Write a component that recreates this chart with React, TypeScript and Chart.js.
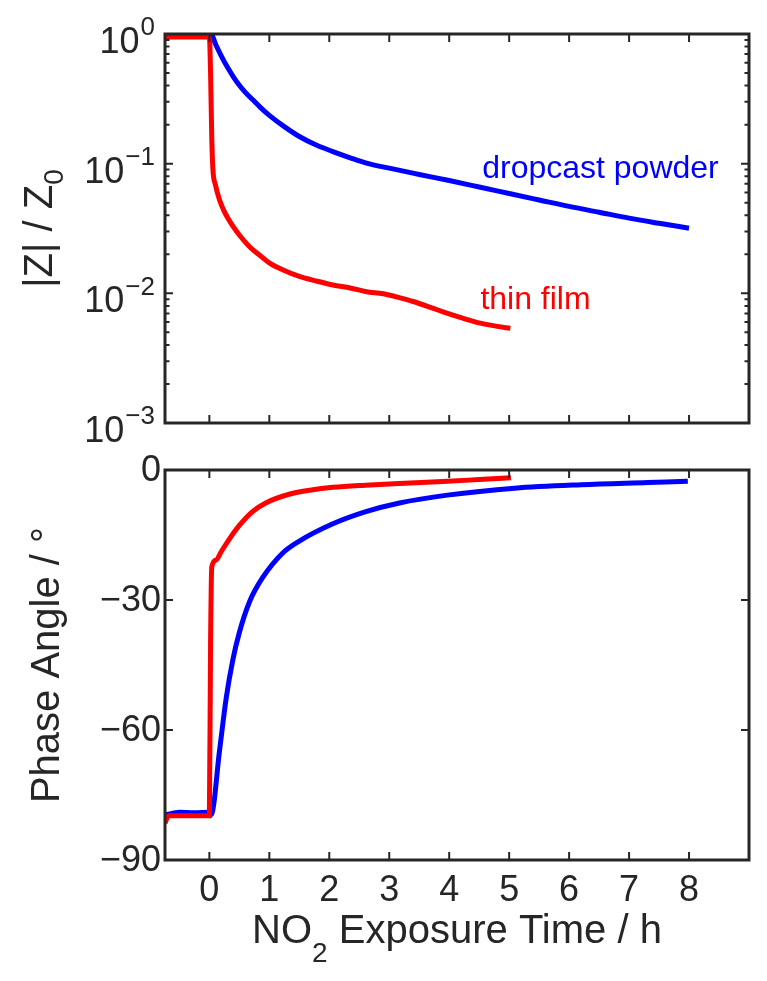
import React, { useEffect, useRef } from 'react';
import { Chart, registerables } from 'chart.js';

Chart.register(...registerables);

// ---------------- data ----------------
const xMin = -0.74;
const xMax = 9;
const xTickValues = [0, 1, 2, 3, 4, 5, 6, 7, 8];
const magMin = 1e-3;
const magMax = 1;
const magTickValues = [1e-3, 1e-2, 1e-1, 1];
const magTickExponents = ['−3', '−2', '−1', '0'];
const phaseMin = -90;
const phaseMax = 0;
const phaseTickValues = [-90, -60, -30, 0];

const thinMagTime = [-0.74, -0.4, 0.0, 0.02, 0.04, 0.06, 0.1, 0.17, 0.25, 0.39, 0.5, 0.67, 0.85, 1.0, 1.25, 1.5, 1.8, 2.06, 2.35, 2.62, 2.9, 3.18, 3.4, 3.7, 3.96, 4.25, 4.52, 4.8, 5.02];
const thinMag = [0.95, 0.95, 0.95, 0.501, 0.158, 0.0891, 0.0692, 0.0525, 0.0427, 0.0331, 0.0282, 0.0229, 0.0195, 0.0172, 0.015, 0.0135, 0.0124, 0.0116, 0.011, 0.0103, 0.00993, 0.00923, 0.00865, 0.00776, 0.00703, 0.00638, 0.00589, 0.00556, 0.00537];

const powderMagTime = [-0.74, -0.3, 0.0, 0.03, 0.1, 0.2, 0.3, 0.4, 0.5, 0.6, 0.72, 0.85, 1.0, 1.25, 1.5, 1.8, 2.06, 2.35, 2.62, 3.0, 3.5, 4.0, 4.5, 5.0, 5.5, 6.0, 6.5, 7.0, 7.5, 8.0];
const powderMag = [1.0, 1.0, 1.0, 1.0, 0.841, 0.676, 0.556, 0.468, 0.403, 0.355, 0.312, 0.272, 0.236, 0.193, 0.162, 0.138, 0.124, 0.111, 0.101, 0.0923, 0.0826, 0.0741, 0.0661, 0.0589, 0.0525, 0.0468, 0.0422, 0.038, 0.0347, 0.0318];

const thinPhaseTime = [-0.74, -0.68, -0.4, 0.0, 0.02, 0.04, 0.11, 0.2, 0.33, 0.5, 0.72, 0.94, 1.33, 1.7, 2.06, 2.6, 3.17, 3.97, 4.5, 5.03];
const thinPhase = [-81.5, -79.8, -79.8, -79.8, -40, -22.4, -20.8, -18.8, -16.0, -12.8, -9.6, -7.6, -5.6, -4.6, -4.0, -3.5, -3.1, -2.6, -2.2, -1.8];

const powderPhaseTime = [-0.74, -0.5, -0.25, 0.0, 0.03, 0.17, 0.28, 0.39, 0.5, 0.67, 0.89, 1.22, 1.5, 2.06, 2.61, 3.17, 3.97, 5.09, 6.2, 7.31, 7.98];
const powderPhase = [-79.6, -79.0, -79.1, -79.0, -79.5, -64.7, -52.7, -43.9, -37.5, -30.4, -24.8, -19.2, -16.4, -12.4, -9.6, -7.6, -5.8, -4.2, -3.4, -2.9, -2.6];

const seriesNames = ['thin film', 'dropcast powder'];

// ---------------- styles ----------------
const AXIS = '#262626';
const RED = '#ff0000';
const BLUE = '#0000ff';
const FONT = '"Liberation Sans", Arial, Helvetica, sans-serif';
const TICK_PX = 36;
const TITLE_PX = 40;

function pts(xs: number[], ys: number[]) {
  return xs.map((x, i) => ({ x, y: ys[i] }));
}

function drawBoxAndTicks(chart: any, yMajor: number[], yMinor: number[]) {
  const ctx = chart.ctx as CanvasRenderingContext2D;
  const a = chart.chartArea;
  const xs = chart.scales.x;
  const ys = chart.scales.y;
  ctx.save();
  ctx.strokeStyle = AXIS;
  ctx.lineWidth = 2;
  const maj = 8;
  const min = 4.5;
  ctx.beginPath();
  for (const v of xTickValues) {
    const px = xs.getPixelForValue(v);
    ctx.moveTo(px, a.bottom);
    ctx.lineTo(px, a.bottom - maj);
    ctx.moveTo(px, a.top);
    ctx.lineTo(px, a.top + maj);
  }
  for (const v of yMajor) {
    const py = ys.getPixelForValue(v);
    ctx.moveTo(a.left, py);
    ctx.lineTo(a.left + maj, py);
    ctx.moveTo(a.right, py);
    ctx.lineTo(a.right - maj, py);
  }
  for (const v of yMinor) {
    const py = ys.getPixelForValue(v);
    ctx.moveTo(a.left, py);
    ctx.lineTo(a.left + min, py);
    ctx.moveTo(a.right, py);
    ctx.lineTo(a.right - min, py);
  }
  ctx.stroke();
  ctx.lineWidth = 3;
  ctx.strokeRect(a.left, a.top, a.right - a.left, a.bottom - a.top);
  ctx.restore();
}

const topPlugin = {
  id: 'topDecor',
  afterDraw(chart: any) {
    const ctx = chart.ctx as CanvasRenderingContext2D;
    const a = chart.chartArea;
    const ys = chart.scales.y;
    const xs = chart.scales.x;
    const minor: number[] = [];
    for (let d = -3; d < 0; d++) {
      for (let m = 2; m <= 9; m++) minor.push(m * Math.pow(10, d));
    }
    drawBoxAndTicks(chart, magTickValues, minor);

    ctx.save();
    ctx.fillStyle = AXIS;
    // y tick labels 10^n
    const rightEdge = a.left - 10;
    magTickValues.forEach((v, i) => {
      const py = ys.getPixelForValue(v);
      const exp = magTickExponents[i];
      ctx.font = `26px ${FONT}`;
      const we = ctx.measureText(exp).width;
      ctx.textAlign = 'left';
      ctx.textBaseline = 'middle';
      ctx.fillText(exp, rightEdge - we, py - 6);
      ctx.font = `${TICK_PX}px ${FONT}`;
      ctx.textAlign = 'right';
      ctx.fillText('10', rightEdge - we - 1, py + 9);
    });

    // y title: |Z| / Z0
    const cx = 41;
    const cy = (a.top + a.bottom) / 2;
    ctx.save();
    ctx.translate(cx, cy);
    ctx.rotate(-Math.PI / 2);
    ctx.font = `${TITLE_PX}px ${FONT}`;
    const mainText = '|Z| / Z';
    const wm = ctx.measureText(mainText).width;
    ctx.font = `28px ${FONT}`;
    const ws = ctx.measureText('0').width;
    const total = wm + ws;
    ctx.textAlign = 'left';
    ctx.textBaseline = 'middle';
    ctx.font = `${TITLE_PX}px ${FONT}`;
    ctx.fillText(mainText, -total / 2, 0);
    ctx.font = `28px ${FONT}`;
    ctx.fillText('0', -total / 2 + wm, 14);
    ctx.restore();

    // series annotations
    ctx.font = `32px ${FONT}`;
    ctx.textAlign = 'left';
    ctx.textBaseline = 'middle';
    ctx.fillStyle = BLUE;
    ctx.fillText(seriesNames[1], xs.getPixelForValue(4.55), ys.getPixelForValue(0.09));
    ctx.fillStyle = RED;
    ctx.fillText(seriesNames[0], xs.getPixelForValue(4.52), ys.getPixelForValue(0.0089));
    ctx.restore();
  },
};

const bottomPlugin = {
  id: 'bottomDecor',
  afterDraw(chart: any) {
    const ctx = chart.ctx as CanvasRenderingContext2D;
    const a = chart.chartArea;
    const ys = chart.scales.y;
    const xs = chart.scales.x;
    drawBoxAndTicks(chart, phaseTickValues, []);

    ctx.save();
    ctx.fillStyle = AXIS;
    ctx.font = `${TICK_PX}px ${FONT}`;
    ctx.textAlign = 'right';
    ctx.textBaseline = 'middle';
    for (const v of phaseTickValues) {
      const label = v < 0 ? '−' + Math.abs(v) : String(v);
      ctx.fillText(label, a.left - 4, ys.getPixelForValue(v) + 1);
    }
    ctx.textAlign = 'center';
    for (const v of xTickValues) {
      ctx.fillText(String(v), xs.getPixelForValue(v), a.bottom + 31);
    }

    // x title with subscript
    const p1 = 'NO';
    const p2 = '2';
    const p3 = ' Exposure Time / h';
    ctx.font = `${TITLE_PX}px ${FONT}`;
    const w1 = ctx.measureText(p1).width;
    const w3 = ctx.measureText(p3).width;
    ctx.font = `28px ${FONT}`;
    const w2 = ctx.measureText(p2).width;
    const total = w1 + w2 + w3;
    const x0 = (a.left + a.right) / 2 - total / 2;
    const ty = a.bottom + 72;
    ctx.textAlign = 'left';
    ctx.font = `${TITLE_PX}px ${FONT}`;
    ctx.fillText(p1, x0, ty);
    ctx.fillText(p3, x0 + w1 + w2, ty);
    ctx.font = `28px ${FONT}`;
    ctx.fillText(p2, x0 + w1, ty + 22);

    // y title
    ctx.save();
    ctx.translate(48, (a.top + a.bottom) / 2);
    ctx.rotate(-Math.PI / 2);
    ctx.font = `${TITLE_PX}px ${FONT}`;
    ctx.textAlign = 'center';
    ctx.textBaseline = 'middle';
    ctx.fillText('Phase Angle / °', 0, 0);
    ctx.restore();
    ctx.restore();
  },
};

function baseOptions(yScale: any, padding: any) {
  return {
    responsive: false,
    maintainAspectRatio: false,
    animation: false,
    devicePixelRatio: 1,
    layout: { padding },
    plugins: { legend: { display: false }, tooltip: { enabled: false } },
    elements: {
      point: { radius: 0 },
      line: { borderWidth: 5, cubicInterpolationMode: 'monotone', borderCapStyle: 'butt' },
    },
    scales: {
      x: { type: 'linear', min: xMin, max: xMax, display: false },
      y: yScale,
    },
  };
}

function ChartCanvas({ config, width, height, top }: any) {
  const ref = useRef<HTMLCanvasElement | null>(null);
  useEffect(() => {
    if (!ref.current) return;
    const chart = new Chart(ref.current, config());
    return () => chart.destroy();
  }, []);
  return (
    <canvas
      ref={ref}
      width={width}
      height={height}
      style={{ position: 'absolute', left: 0, top, width, height }}
    />
  );
}

const topConfig = () => ({
  type: 'line',
  data: {
    datasets: [
      { label: seriesNames[0], data: pts(thinMagTime, thinMag), borderColor: RED, backgroundColor: RED, fill: false },
      { label: seriesNames[1], data: pts(powderMagTime, powderMag), borderColor: BLUE, backgroundColor: BLUE, fill: false },
    ],
  },
  options: baseOptions(
    { type: 'logarithmic', min: magMin, max: magMax, display: false },
    { left: 165, right: 18, top: 34, bottom: 27 }
  ),
  plugins: [topPlugin],
});

const bottomConfig = () => ({
  type: 'line',
  data: {
    datasets: [
      { label: seriesNames[0], data: pts(thinPhaseTime, thinPhase), borderColor: RED, backgroundColor: RED, fill: false },
      { label: seriesNames[1], data: pts(powderPhaseTime, powderPhase), borderColor: BLUE, backgroundColor: BLUE, fill: false },
    ],
  },
  options: baseOptions(
    { type: 'linear', min: phaseMin, max: phaseMax, display: false },
    { left: 165, right: 18, top: 20, bottom: 121 }
  ),
  plugins: [bottomPlugin],
});

export default function App() {
  return (
    <div style={{ position: 'fixed', left: 0, top: 0, width: 767, height: 981, background: '#ffffff' }}>
      <ChartCanvas config={topConfig} width={767} height={450} top={0} />
      <ChartCanvas config={bottomConfig} width={767} height={531} top={450} />
    </div>
  );
}
